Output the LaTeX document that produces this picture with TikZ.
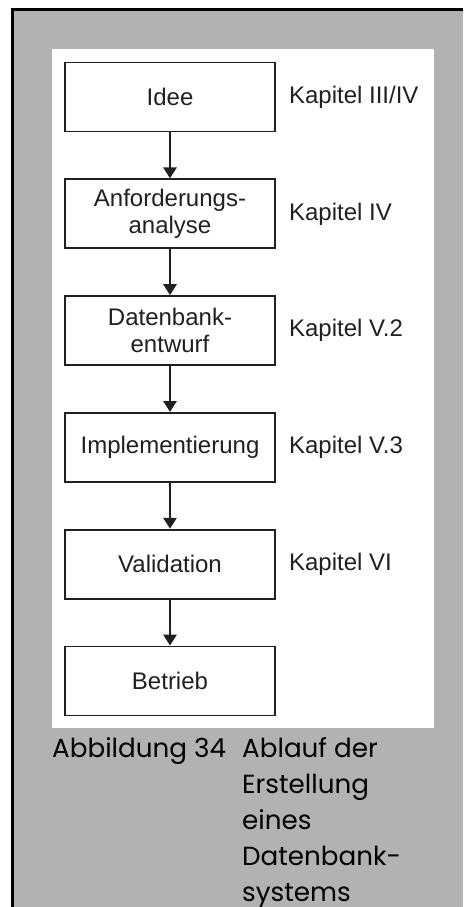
\documentclass[tikz,border=0pt]{standalone}
\usepackage{fontspec}
\setmainfont{Liberation Sans}
\newfontfamily\capfont{Poppins}
\usetikzlibrary{positioning,arrows.meta}

\definecolor{ink}{HTML}{231F20}
\definecolor{pagegray}{gray}{0.70}

\begin{document}
\begin{tikzpicture}[
        x=1pt, y=-1pt,
        node distance=46pt,
        phase/.style={draw=ink, line width=1.8pt, minimum width=210pt, minimum height=69pt,
            inner sep=0pt, align=center, text=ink, font=\fontsize{24}{27}\selectfont},
        chap/.style={inner sep=0pt, anchor=west, text=ink, font=\fontsize{24}{27}\selectfont},
        flow/.style={draw=ink, line width=2.8pt, -{Triangle[length=11pt, width=13pt]}},
        figtext/.style={inner sep=0pt, anchor=base west,
            font=\capfont\fontsize{26.2}{36.2}\selectfont},
    ]
    \useasboundingbox (0,0) rectangle (463,907);

    %% grey page with the black frame on top and left
    \fill[pagegray] (11,8) rectangle (463,907);
    \draw[line width=3pt] (12.5,907) -- (12.5,9.5) -- (463,9.5);
    \fill[white] (52,49) rectangle (434,728);

    %% the phases
    \node[phase] (idee) at (170,97) {Idee};
    \node[phase, below=of idee] (anf) {Anforderungs-\\analyse};
    \node[phase, below=of anf] (entw) {Datenbank-\\entwurf};
    \node[phase, below=of entw] (impl) {Implementierung};
    \node[phase, below=of impl] (valid) {Validation};
    \node[phase, below=of valid] (betr) {Betrieb};

    \foreach \a/\b in {idee/anf, anf/entw, entw/impl, impl/valid, valid/betr}
        \draw[flow] (\a) -- (\b);

    %% chapters
    \node[chap, right=13pt of idee] (kidee) {Kapitel III/IV};
    \node[chap, right=13pt of anf] (kanf) {Kapitel IV};
    \node[chap, right=13pt of entw] (kentw) {Kapitel V.2};
    \node[chap, right=13pt of impl] (kimpl) {Kapitel V.3};
    \node[chap, right=13pt of valid] (kvalid) {Kapitel VI};

    %% caption
    \node[figtext] (capnum) at (52,757) {Abbildung 34};
    \node[figtext] (captxt) at (242,757) {\vtop{\hbox{Ablauf der}\hbox{Erstellung}%
        \hbox{eines}\hbox{Datenbank-}\hbox{systems}}};
\end{tikzpicture}
\end{document}
